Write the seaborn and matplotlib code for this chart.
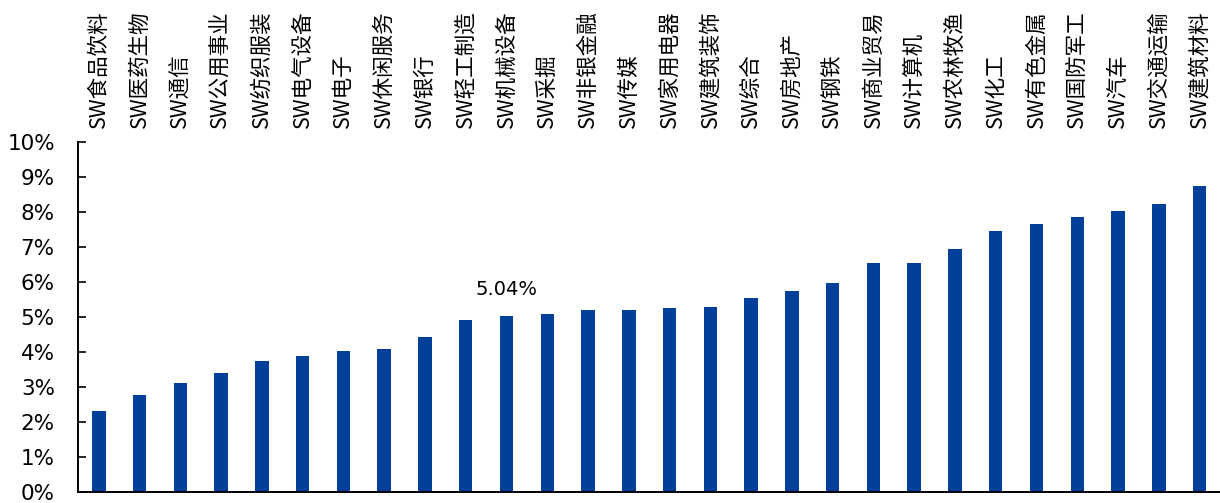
import matplotlib
matplotlib.use("Agg")
import matplotlib.pyplot as plt
import seaborn as sns
import pandas as pd
from matplotlib.ticker import FuncFormatter, MultipleLocator

# Industry names (Shenwan level-1) and their values, in percent
industries = [
    "SW食品饮料", "SW医药生物", "SW通信", "SW公用事业", "SW纺织服装", "SW电气设备",
    "SW电子", "SW休闲服务", "SW银行", "SW轻工制造", "SW机械设备", "SW采掘",
    "SW非银金融", "SW传媒", "SW家用电器", "SW建筑装饰", "SW综合", "SW房地产",
    "SW钢铁", "SW商业贸易", "SW计算机", "SW农林牧渔", "SW化工", "SW有色金属",
    "SW国防军工", "SW汽车", "SW交通运输", "SW建筑材料",
]
values = [
    2.32, 2.77, 3.12, 3.39, 3.74, 3.90,
    4.02, 4.09, 4.43, 4.91, 5.04, 5.08,
    5.19, 5.19, 5.25, 5.29, 5.56, 5.74,
    5.97, 6.56, 6.56, 6.94, 7.46, 7.66,
    7.85, 8.04, 8.24, 8.76,
]
highlight = "SW机械设备"

df = pd.DataFrame({"industry": industries, "value": values})

sns.set_style("white")
plt.rcParams["font.family"] = ["DejaVu Sans"]

bar_color = "#00409A"

fig = plt.figure(figsize=(12.2, 5.03), dpi=100)
ax = fig.add_axes([0.0643, 0.0219, 0.9357, 0.6953])

sns.barplot(data=df, x="industry", y="value", color=bar_color,
            width=0.33, saturation=1, linewidth=0, ax=ax)

ax.set_ylim(0, 10)
ax.yaxis.set_major_locator(MultipleLocator(1))
ax.yaxis.set_major_formatter(FuncFormatter(lambda v, _: f"{v:.0f}%"))
ax.set_xlabel("")
ax.set_ylabel("")

for side in ("top", "right"):
    ax.spines[side].set_visible(False)
for side in ("left", "bottom"):
    ax.spines[side].set_color("black")
    ax.spines[side].set_linewidth(1.4)

ax.tick_params(axis="y", direction="in", length=6, width=1.2, color="black",
               left=True, labelsize=15.5, pad=17, labelcolor="black")
ax.tick_params(axis="x", bottom=False, top=False, labelbottom=False,
               labeltop=True, length=0, pad=10, rotation=90)
for lbl in ax.get_xticklabels():
    lbl.set_family(["Noto Sans CJK SC", "DejaVu Sans"])
    lbl.set_fontsize(15.5)
    lbl.set_color("black")

# Value label over the highlighted industry
idx = industries.index(highlight)
ax.annotate(f"{values[idx]:.2f}%", xy=(idx, values[idx]), xytext=(0, 12),
            textcoords="offset points", ha="center", va="bottom",
            fontsize=14, color="black")

fig.savefig("out.png", dpi=100, facecolor="white")
